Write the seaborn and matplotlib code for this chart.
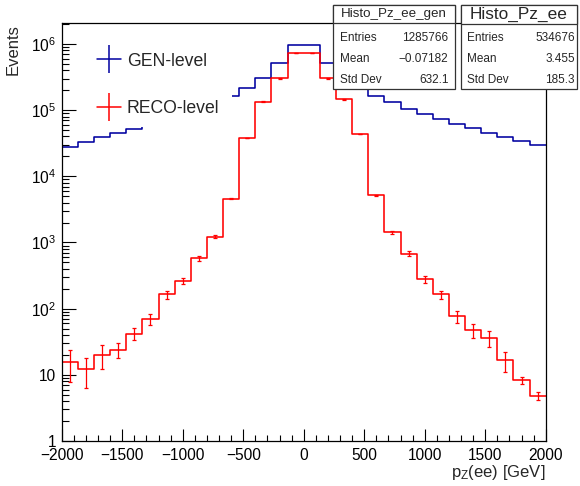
import numpy as np
import pandas as pd
import matplotlib
matplotlib.use("Agg")
import matplotlib.pyplot as plt
import seaborn as sns
from matplotlib.lines import Line2D
from matplotlib.patches import Rectangle
from matplotlib.ticker import MultipleLocator, LogLocator, NullFormatter, FixedLocator, FixedFormatter

# ---------------- data ----------------
n_bins = 30
x_range = (-2000, 2000)

gen_counts = [27900, 33200, 39500, 45500, 51700, 60000, 72000, 86000, 105000, 130000,
              161000, 217000, 308000, 513000, 968000, 968000, 513000, 308000, 217000, 164000,
              131000, 105000, 87000, 73100, 61500, 52900, 45000, 39100, 34000, 29600]

reco_counts = [15.6, 12.1, 20.1, 23.9, 41.8, 68.9, 164, 264, 575, 1220,
               4570, 38200, 135000, 301000, 735000, 735000, 301000, 145000, 43900, 5140,
               1420, 675, 277, 164, 76.5, 47, 36.3, 16.6, 8.35, 4.83]

reco_errors = [7.8, 5.7, 8.0, 6.0, 8.4, 13, 24, 28, 52, 70,
               100, 300, 500, 800, 1200, 1200, 800, 500, 300, 100,
               70, 58, 31, 24, 15, 11, 10, 5.7, 1.0, 0.6]

series_labels = ["GEN-level", "RECO-level"]
x_tick_values = [-2000, -1500, -1000, -500, 0, 500, 1000, 1500, 2000]
y_tick_values = [1, 10, 1e2, 1e3, 1e4, 1e5, 1e6]
y_tick_labels = ["1", "10", r"$10^{2}$", r"$10^{3}$", r"$10^{4}$", r"$10^{5}$", r"$10^{6}$"]

stats_gen_title = "Histo_Pz_ee_gen"
stats_gen_names = ["Entries", "Mean", "Std Dev"]
stats_gen_values = ["1285766", "\u22120.07182", "632.1"]
stats_reco_title = "Histo_Pz_ee"
stats_reco_names = ["Entries", "Mean", "Std Dev"]
stats_reco_values = ["534676", "3.455", "185.3"]

x_label = r"p$_{\mathrm{Z}}$(ee) [GeV]"
y_label = "Events"

GEN_COLOR = "#0000a0"
RECO_COLOR = "#ff0000"

# ---------------- style ----------------
sns.set_theme(style="white")
plt.rcParams["font.family"] = ["Liberation Sans", "DejaVu Sans"]
plt.rcParams["mathtext.fontset"] = "custom"
plt.rcParams["mathtext.rm"] = "Liberation Sans"
plt.rcParams["mathtext.it"] = "Liberation Sans:italic"
plt.rcParams["mathtext.bf"] = "Liberation Sans:bold"
plt.rcParams["axes.unicode_minus"] = True

W, H = 580, 486
fig = plt.figure(figsize=(W / 100, H / 100), dpi=100)
fig.patch.set_facecolor("white")
ax_l, ax_r, ax_t, ax_b = 61.7, 545.7, 23.5, 441.0
ax = fig.add_axes([ax_l / W, 1 - ax_b / H, (ax_r - ax_l) / W, (ax_b - ax_t) / H])
ax.set_facecolor("white")

bin_edges = np.linspace(x_range[0], x_range[1], n_bins + 1)
centers = 0.5 * (bin_edges[:-1] + bin_edges[1:])
df_gen = pd.DataFrame({"pz": centers, "w": gen_counts})
df_reco = pd.DataFrame({"pz": centers, "w": reco_counts})

sns.histplot(data=df_gen, x="pz", weights="w", bins=n_bins, binrange=x_range, element="step",
             fill=False, color=GEN_COLOR, linewidth=1.15, ax=ax, zorder=2)
sns.histplot(data=df_reco, x="pz", weights="w", bins=n_bins, binrange=x_range, element="step",
             fill=False, color=RECO_COLOR, linewidth=1.15, ax=ax, zorder=2.1)
ax.errorbar(centers, reco_counts, yerr=reco_errors, fmt="none", ecolor=RECO_COLOR,
            elinewidth=0.9, capsize=1.5, capthick=0.9, zorder=2.2)

ax.set_yscale("log")
ax.set_xlim(*x_range)
ax.set_ylim(1, 2.04e6)
ax.set_xlabel("")
ax.set_ylabel("")

ax.xaxis.set_major_locator(FixedLocator(x_tick_values))
ax.xaxis.set_minor_locator(MultipleLocator(100))
ax.yaxis.set_major_locator(FixedLocator(y_tick_values))
ax.yaxis.set_major_formatter(FixedFormatter(y_tick_labels))
ax.yaxis.set_minor_locator(LogLocator(base=10, subs=np.arange(2, 10), numticks=30))
ax.yaxis.set_minor_formatter(NullFormatter())

ax.tick_params(axis="both", which="both", direction="in", top=False, right=False,
               bottom=True, left=True, colors="black", labelsize=11.2, width=0.8)
ax.tick_params(axis="y", which="major", length=10, pad=4)
ax.tick_params(axis="y", which="minor", length=5)
ax.tick_params(axis="x", which="major", length=9, pad=5)
ax.tick_params(axis="x", which="minor", length=4.5)
for s in ax.spines.values():
    s.set_color("black")
    s.set_linewidth(0.9)

# axis titles (ROOT style: aligned to axis ends)
fig.text(ax_r / W, 1 - 472 / H, x_label, ha="right", va="center", fontsize=12)
fig.text(13 / W, 1 - 24.5 / H, y_label, rotation=90, ha="center", va="top", fontsize=12)

# legend with white box
lx0, lx1, ly0, ly1 = 85, 232, 33, 127
ax.add_patch(Rectangle(((lx0 - ax_l) / (ax_r - ax_l), (ax_b - ly1) / (ax_b - ax_t)),
                       (lx1 - lx0) / (ax_r - ax_l), (ly1 - ly0) / (ax_b - ax_t),
                       transform=ax.transAxes, facecolor="white", edgecolor="none", zorder=3))
handles = [Line2D([0], [0], color=GEN_COLOR, lw=1.1, marker="|", markersize=20, markeredgewidth=1.1),
           Line2D([0], [0], color=RECO_COLOR, lw=1.1, marker="|", markersize=20, markeredgewidth=1.1)]
leg = ax.legend(handles, series_labels, loc="upper left",
                bbox_to_anchor=(97 / W, 1 - 52.5 / H), bbox_transform=fig.transFigure,
                frameon=False, fontsize=12.7, handlelength=1.36, handletextpad=0.32,
                labelspacing=1.74, borderpad=0, borderaxespad=0)
leg.set_zorder(5)

# stats boxes
def stats_box(x0, x1, y0, ytitle, y1, title, title_size, names, values, name_x, value_x):
    fig.add_artist(Rectangle((x0 / W, 1 - y1 / H), (x1 - x0) / W, (y1 - y0) / H,
                             transform=fig.transFigure, facecolor="white",
                             edgecolor="#333333", lw=0.9, zorder=5))
    fig.add_artist(Rectangle((x0 / W, 1 - ytitle / H), (x1 - x0) / W, (ytitle - y0) / H,
                             transform=fig.transFigure, facecolor="white",
                             edgecolor="#333333", lw=0.9, zorder=5))
    fig.text((x0 + x1) / 2 / W, 1 - (y0 + ytitle) / 2 / H, title, ha="center", va="center",
             fontsize=title_size, zorder=6)
    for i, (n, v) in enumerate(zip(names, values)):
        yy = [37.7, 59.0, 80.2][i]
        fig.text(name_x / W, 1 - yy / H, n, ha="left", va="center", fontsize=8.5, zorder=6)
        fig.text(value_x / W, 1 - yy / H, v, ha="right", va="center", fontsize=8.5, zorder=6)

stats_box(333.3, 455.0, 5.5, 23.5, 89.3, stats_gen_title, 9.6,
          stats_gen_names, stats_gen_values, 340.0, 448.5)
stats_box(460.7, 577.0, 5.0, 24.0, 89.3, stats_reco_title, 12.4,
          stats_reco_names, stats_reco_values, 467.3, 575.0)

fig.savefig("out.png", dpi=100, facecolor="white")
